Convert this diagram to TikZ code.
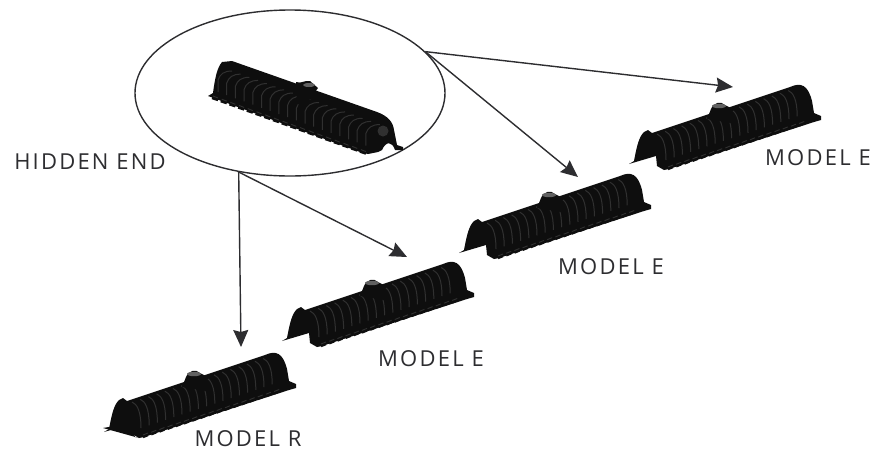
\documentclass[tikz,border=0pt]{standalone}
\usepackage{fontspec}
\setmainfont{Open Sans}[LetterSpace=10]
\usetikzlibrary{arrows.meta,shapes.geometric}
\definecolor{ink}{RGB}{45,45,48}
\definecolor{rib}{RGB}{48,48,48}
\definecolor{body}{RGB}{14,14,14}
\tikzset{
    lbl/.style={text=ink, font=\fontsize{22}{24}\selectfont, inner sep=0pt},
    rib line/.style={draw=rib, line width=1pt},
    foot line/.style={draw=rib, line width=0.9pt},
    foot/.style={draw=body, line width=2.4pt},
    pics/chamber/.style={code={
        \fill[body] (-36,-5) -- (-31,-8) .. controls (-28,-24) and (-26,-32) .. (-21,-37)
            -- (-17,-39) -- (-13,-36) -- (125,-82) .. controls (136,-87) and (143,-84) .. (147,-68)
            -- (149,-56) -- (156,-53) -- (156,-49) -- (149,-47) -- (4,0) -- (-1,1) -- (-8,-3)
            -- (-9,-13) -- cycle;
        \foreach \i in {0,...,16} {
            \draw[rib line] ({\i*8.2+1},{-\i*2.72-9}) .. controls ({\i*8.2+1},{-\i*2.72-26}) and ({\i*8.2-3},{-\i*2.72-33}) .. ({\i*8.2-8},{-\i*2.72-35});
            \draw[foot] ({\i*8.2+3},{-\i*2.72+0}) -- ({\i*8.2+8},{-\i*2.72-2});
            \draw[foot line] ({\i*8.2+3},{-\i*2.72-2}) -- ({\i*8.2+8},{-\i*2.72-4});
        }
        \fill[body] (42,-50) -- (46,-60) .. controls (49,-67) and (56,-68) .. (60,-64) -- (68,-60) -- (66,-46) -- cycle;
        \fill[black!62] (54,-63) ellipse (7 and 2.2);
    }},
    pics/closed end/.style={code={
        \fill[body] (-37,-9) -- (-9,-14) -- (-5,0) -- (-1,1) -- cycle;
    }},
    pics/hidden chamber/.style={code={
        \fill[body] (208,96) -- (213,93) .. controls (215,78) and (217,68) .. (222,62)
            -- (232,61) -- (377,112) .. controls (388,116) and (393,122) .. (394,130)
            -- (397,145) -- (403,147) -- (403,150) -- (395,150) .. controls (392,141) and (386,141) .. (382,150)
            -- (378,152) -- (368,154) -- (360,152) -- cycle;
        \foreach \i in {0,...,17} {
            \draw[rib line] ({\i*8.7+218},{\i*3.15+92}) -- ({\i*8.7+218},{\i*3.15+80}) .. controls ({\i*8.7+220},{\i*3.15+74}) and ({\i*8.7+224},{\i*3.15+71}) .. ({\i*8.7+232},{\i*3.15+71});
            \draw[foot] ({\i*8.7+212},{\i*3.15+98}) -- ({\i*8.7+218},{\i*3.15+100});
            \draw[foot line] ({\i*8.7+213},{\i*3.15+96}) -- ({\i*8.7+218},{\i*3.15+98});
        }
        \fill[body] (296,82) .. controls (302,84) and (304,80) .. (310,81) -- (318,88) -- (305,106) -- (297,104) -- cycle;
        \fill[black!62] (309,85) ellipse (6 and 2);
        \fill[rib] (383,131) circle (5.5);
    }}
}
\begin{document}
\begin{tikzpicture}[x=1pt, y=-1pt, >={Stealth[length=17pt,width=15pt,inset=2pt]}]
    \useasboundingbox (0,0) rectangle (873,451);

    \node[draw=ink, line width=1.4pt, ellipse, minimum width=310pt, minimum height=166pt, inner sep=0pt] (hidden) at (290,93) {};

    \pic {hidden chamber};
    \pic at (140,437) {chamber};
    \pic at (140,437) {closed end};
    \pic at (318,346) {chamber};
    \pic at (495,258) {chamber};
    \pic at (665,169) {chamber};

    \coordinate (tipR)  at (241,347);
    \coordinate (tipEa) at (407,257);
    \coordinate (tipEb) at (578,177);
    \coordinate (tipEc) at (733,87);

    \draw[->, ink, line width=1.4pt] (hidden.237.5) to (tipR);
    \draw[->, ink, line width=1.4pt] (hidden.237.5) to (tipEa);
    \draw[->, ink, line width=1.4pt] (hidden.17.8) to (tipEb);
    \draw[->, ink, line width=1.4pt] (hidden.17.8) to (tipEc);

    \node[lbl] (lh) at (90,162) {HIDDEN END};
    \node[lbl] (le3) at (818,158) {MODEL E};
    \node[lbl] (le2) at (611,267) {MODEL E};
    \node[lbl] (le1) at (431,359) {MODEL E};
    \node[lbl] (lr) at (248,439) {MODEL R};
\end{tikzpicture}
\end{document}
